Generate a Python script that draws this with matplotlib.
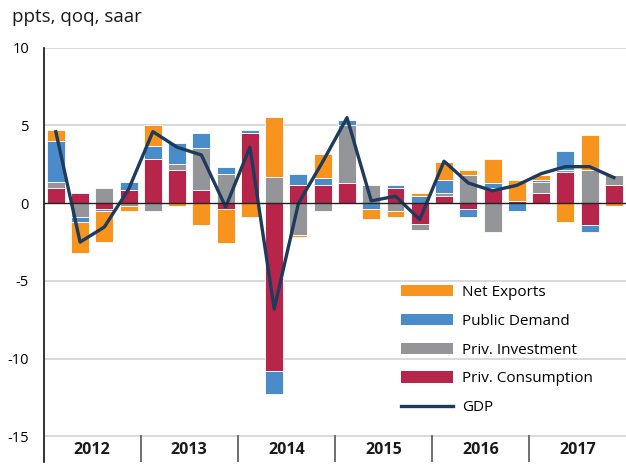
import matplotlib

matplotlib.use("Agg")
import matplotlib.pyplot as plt  # noqa: E402
import numpy as np  # noqa: E402
from matplotlib.lines import Line2D  # noqa: E402
from matplotlib.patches import Patch  # noqa: E402

plt.rcParams["font.family"] = ["Open Sans", "DejaVu Sans"]

# Datos: contribuciones trimestrales 2012Q1-2017Q4 (ppts, qoq, saar)
years = ["2012", "2013", "2014", "2015", "2016", "2017"]
priv_consumption = [1.0, 0.67, -0.34, 0.82, 2.84, 2.15, 0.82, -0.34, 4.52, -10.8, 1.16, 1.16,
                    1.33, 0.0, 0.99, -1.35, 0.47, -0.34, 0.99, 0.13, 0.65, 2.0, -1.38, 1.16]
priv_investment = [0.34, -0.88, 0.99, -0.15, -0.52, 0.34, 2.71, 1.85, 0.0, 1.66, -2.04, -0.52,
                   3.7, 1.16, -0.52, -0.34, 0.17, 1.81, -1.85, 0.0, 0.69, 0.15, 2.15, 0.67]
public_demand = [2.67, -0.32, -0.17, 0.52, 0.84, 1.35, 1.01, 0.49, 0.17, -1.48, 0.69, 0.49,
                 0.34, -0.34, 0.17, 0.49, 0.84, -0.52, 0.34, -0.52, 0.15, 1.18, -0.47, 0.0]
net_exports = [0.69, -2.0, -2.0, -0.35, 1.35, -0.2, -1.38, -2.2, -0.86, 3.89, -0.15, 1.53,
               0.0, -0.69, -0.34, 0.15, 1.18, 0.34, 1.5, 1.35, 0.34, -1.2, 2.22, -0.17]
gdp = [4.6, -2.5, -1.53, 0.9, 4.6, 3.6, 3.1, -0.24, 3.6, -6.8, 0.0, 2.67,
       5.5, 0.15, 0.45, -1.05, 2.7, 1.3, 0.8, 1.15, 1.9, 2.35, 2.35, 1.65]

series = [
    ("Priv. Consumption", priv_consumption, "#B8254A"),
    ("Priv. Investment", priv_investment, "#939598"),
    ("Public Demand", public_demand, "#4A8CCA"),
    ("Net Exports", net_exports, "#F7941D"),
]

W, H = 626, 465
fig = plt.figure(figsize=(W / 100, H / 100), dpi=100)
ax = fig.add_axes([43.7 / W, 3 / H, (W - 43.7) / W, (462 - 47.7) / H])

x = np.arange(len(gdp))
pos = np.zeros(len(x))
neg = np.zeros(len(x))
for name, vals, color in series:
    v = np.array(vals)
    bottom = np.where(v >= 0, pos, neg)
    ax.bar(x, v, width=0.74, bottom=bottom, color=color, edgecolor="white",
           linewidth=0.6, zorder=3)
    pos += np.where(v >= 0, v, 0)
    neg += np.where(v < 0, v, 0)

ax.plot(x, gdp, color="#1E3A5C", linewidth=2.4, zorder=4)

ax.set_xlim(-0.5, 23.5)
ax.set_ylim(-16.64, 10)
ax.set_yticks([10, 5, 0, -5, -10, -15])
ax.set_yticklabels(["10", "5", "0", "-5", "-10", "-15"])
ax.tick_params(axis="y", length=0, pad=10.5, labelsize=10.5)
ax.set_xticks([])
for yv in [10, 5, -5, -10, -15]:
    ax.axhline(yv, color="#D3D3D3", linewidth=1.2, zorder=1)
ax.axhline(0, color="#222222", linewidth=1.0, zorder=5)

for s in ["top", "right", "bottom"]:
    ax.spines[s].set_visible(False)
ax.spines["left"].set_color("#111111")
ax.spines["left"].set_linewidth(1.2)

# Etiquetas de año y separadores
for i, yr in enumerate(years):
    ax.text(i * 4 + 1.5, -15.85, yr, ha="center", va="center",
            fontsize=11.5, fontweight="bold", color="#1a1a1a")
    if i > 0:
        ax.plot([i * 4 - 0.5] * 2, [-15, -16.64], color="#555555",
                linewidth=1.2, zorder=2)

handles = [
    Patch(facecolor="#F7941D", label="Net Exports"),
    Patch(facecolor="#4A8CCA", label="Public Demand"),
    Patch(facecolor="#939598", label="Priv. Investment"),
    Patch(facecolor="#B8254A", label="Priv. Consumption"),
    Line2D([0], [0], color="#1E3A5C", linewidth=2.4, label="GDP"),
]
fig.legend(handles=handles, loc="upper left", frameon=False,
           bbox_to_anchor=(401 / W, 1 - 285 / H), bbox_transform=fig.transFigure,
           fontsize=11, handlelength=3.4, handleheight=0.75, handletextpad=0.6,
           labelspacing=0.9, borderpad=0, borderaxespad=0)

fig.text(12 / W, 1 - 17 / H, "ppts, qoq, saar", fontsize=13.5, va="center",
         ha="left", color="#1a1a1a")

fig.savefig("out.png", dpi=100)
